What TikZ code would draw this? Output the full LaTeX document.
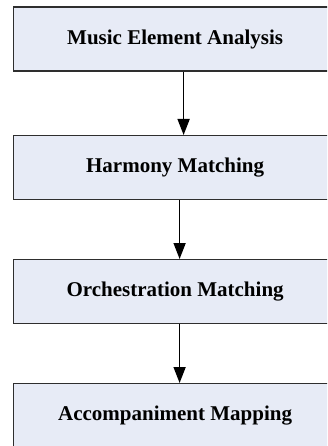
\documentclass[tikz,border=0pt]{standalone}
\usepackage{fontspec}
\setmainfont{Liberation Serif}
\usetikzlibrary{arrows.meta}
\definecolor{boxfill}{HTML}{E7EBF6}
\definecolor{boxline}{HTML}{2E2E2E}
\tikzset{
  stagebox/.style={draw=boxline, line width=1.2pt, fill=boxfill, anchor=north west,
    minimum width=324pt, minimum height=64pt, inner sep=0pt,
    font=\fontsize{21}{25}\selectfont\bfseries},
  flowarrow/.style={draw=black, line width=1.6pt,
    -{Triangle[length=16pt,width=12pt]}},
}
\begin{document}
\begin{tikzpicture}[x=1pt,y=-1pt]
  \clip (0,0) rectangle (327,446);
  \fill[white] (0,0) rectangle (327,446);
  \node[stagebox] (s1) at (12.5,6.5) {Music Element Analysis};
  \node[stagebox] (s2) at (12.5,135) {Harmony Matching};
  \node[stagebox] (s3) at (12.5,259) {Orchestration Matching};
  \node[stagebox] (s4) at (12.5,383) {Accompaniment Mapping};
  \draw[flowarrow] ([xshift=8.5pt]s1.south) -- ([xshift=8.5pt]s2.north);
  \draw[flowarrow] ([xshift=4.5pt]s2.south) -- ([xshift=4.5pt]s3.north);
  \draw[flowarrow] ([xshift=4.5pt]s3.south) -- ([xshift=4.5pt]s4.north);
\end{tikzpicture}
\end{document}
